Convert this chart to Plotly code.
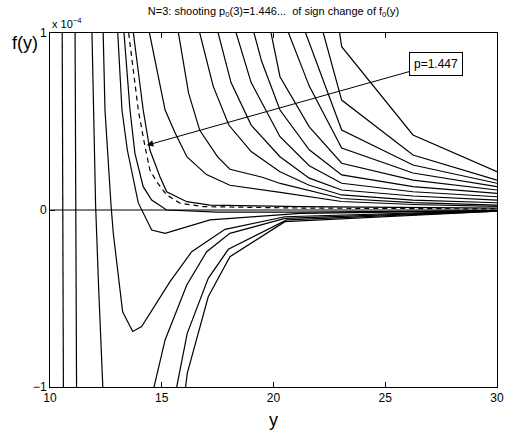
import plotly.graph_objects as go

# ---- data (values in units of 1e-4) ----
C1_x = [10.545, 10.60]; C1_y = [1.05, -1.05]
C2_x = [11.12, 11.19]; C2_y = [1.05, -1.05]
C3_x = [11.87, 11.94, 12.04, 12.18, 12.38]; C3_y = [1.05, 0.56, 0.03, -0.45, -1.05]
C4_x = [12.37, 12.46, 12.73, 12.83, 13.25, 13.70, 14.10, 15.37, 16.34, 17.83, 20.51, 30]
C4_y = [1.05, 0.565, 0.028, -0.13, -0.575, -0.686, -0.659, -0.405, -0.236, -0.109, -0.038, -0.003]
S_x = [13.01, 13.22, 13.46, 13.95, 14.55, 15.15, 17.16, 21.2, 30]
S_y = [1.05, 0.565, 0.339, 0.04, -0.113, -0.132, -0.056, -0.019, -0.003]
T_x = [13.28, 13.58, 13.80, 14.17, 14.55, 15.22, 17.5, 21.2, 30]
T_y = [1.05, 0.565, 0.32, 0.132, 0.056, 0.0, -0.012, -0.012, -0.003]
D_x = [13.47, 13.95, 14.25, 14.47, 14.77, 15.22, 15.82, 16.86, 21.2, 30]
D_y = [1.05, 0.565, 0.358, 0.226, 0.16, 0.085, 0.038, 0.019, 0.011, 0.006]
U_x = [13.68, 14.17, 14.47, 14.92, 15.22, 16.12, 17.16, 21.2, 30]
U_y = [1.05, 0.565, 0.339, 0.188, 0.103, 0.047, 0.028, 0.019, 0.011]
U5_x = [14.37, 14.85, 15.15, 15.6, 16.13, 17.0, 18.05, 20.3, 23.05, 26.24, 30]
U5_y = [1.05, 0.75, 0.565, 0.435, 0.30, 0.20, 0.14, 0.10, 0.048, 0.031, 0.020]
U6_x = [15.68, 16.2, 16.7, 17.5, 18.05, 19.5, 20.3, 23.05, 26.24, 30]
U6_y = [1.05, 0.66, 0.45, 0.30, 0.23, 0.185, 0.15, 0.065, 0.042, 0.028]
U7_x = [16.6, 17.3, 18.0, 19.0, 20.29, 21.6, 23.05, 26.24, 30]
U7_y = [1.05, 0.70, 0.48, 0.33, 0.216, 0.14, 0.085, 0.056, 0.041]
U8_x = [17.42, 18.1, 19.0, 20.29, 21.6, 23.05, 26.24, 30]
U8_y = [1.05, 0.72, 0.48, 0.301, 0.18, 0.113, 0.079, 0.056]
U9_x = [18.21, 19.0, 20.29, 21.6, 23.05, 26.24, 30]
U9_y = [1.05, 0.72, 0.414, 0.25, 0.151, 0.103, 0.075]
U10_x = [19.02, 19.47, 20.29, 21.6, 23.05, 26.24, 30]
U10_y = [1.05, 0.84, 0.565, 0.34, 0.198, 0.132, 0.094]
U11_x = [19.81, 20.29, 21.6, 23.05, 26.24, 30]
U11_y = [1.05, 0.753, 0.47, 0.264, 0.169, 0.113]
U12_x = [20.52, 21.6, 23.05, 26.24, 30]
U12_y = [1.05, 0.70, 0.350, 0.209, 0.132]
U13_x = [21.29, 23.05, 26.24, 30]
U13_y = [1.05, 0.452, 0.254, 0.151]
U14_x = [22.12, 23.05, 26.24, 30]
U14_y = [1.05, 0.621, 0.311, 0.169]
U15_x = [22.9, 23.05, 26.24, 30]
U15_y = [1.05, 0.923, 0.424, 0.216]
L3_x = [14.56, 15.15, 16.12, 17.01, 18.05, 20.51, 30]
L3_y = [-1.05, -0.734, -0.424, -0.236, -0.132, -0.047, -0.005]
L4_x = [15.59, 16.14, 17.08, 17.98, 20.59, 30]
L4_y = [-1.05, -0.697, -0.386, -0.222, -0.056, -0.006]
L5_x = [16.02, 16.14, 17.08, 18.05, 20.51, 30]
L5_y = [-1.05, -0.923, -0.49, -0.264, -0.066, -0.007]
ZERO_x = [10, 30]; ZERO_y = [0, 0]

X_TICKS = [10, 15, 20, 25, 30]
Y_TICKS = [-1, 0, 1]
ARROW_TIP = (14.33, 0.366)
ARROW_TAIL = (27.26, 0.824)
LABEL = "p=1.447"

FONT = "Liberation Sans, Arial, sans-serif"

solid = [
    (C1_x, C1_y), (C2_x, C2_y), (C3_x, C3_y), (C4_x, C4_y), (S_x, S_y), (T_x, T_y),
    (U_x, U_y), (U5_x, U5_y), (U6_x, U6_y), (U7_x, U7_y), (U8_x, U8_y), (U9_x, U9_y),
    (U10_x, U10_y), (U11_x, U11_y), (U12_x, U12_y), (U13_x, U13_y), (U14_x, U14_y),
    (U15_x, U15_y), (L3_x, L3_y), (L4_x, L4_y), (L5_x, L5_y), (ZERO_x, ZERO_y),
]

fig = go.Figure()
for xs, ys in solid:
    fig.add_trace(go.Scatter(x=xs, y=ys, mode="lines",
                             line=dict(color="black", width=1.2), hoverinfo="skip"))
fig.add_trace(go.Scatter(x=D_x, y=D_y, mode="lines",
                         line=dict(color="black", width=1.2, dash="5px,4px"), hoverinfo="skip"))

axis_common = dict(showline=True, linecolor="black", linewidth=1, mirror="ticks",
                   ticks="inside", ticklen=5, tickcolor="black", showgrid=False,
                   zeroline=False, automargin=False,
                   tickfont=dict(family=FONT, size=12, color="black"))

fig.update_layout(
    width=505, height=434,
    margin=dict(l=50, r=8, t=33, b=47, autoexpand=False),
    paper_bgcolor="white", plot_bgcolor="white",
    showlegend=False,
    xaxis=dict(range=[10, 30], tickvals=X_TICKS, **axis_common),
    yaxis=dict(range=[-1, 1], tickvals=Y_TICKS, **axis_common),
    title=dict(text="N=3: shooting p<sub>0</sub>(3)=1.446...  of sign change of f<sub>0</sub>(y)",
               x=0.5, xref="paper", xanchor="center", y=0.974, yref="container", yanchor="middle",
               font=dict(family=FONT, size=11, color="black")),
)
fig.add_annotation(x=ARROW_TIP[0], y=ARROW_TIP[1], ax=ARROW_TAIL[0], ay=ARROW_TAIL[1],
                   xref="x", yref="y", axref="x", ayref="y", text=LABEL, showarrow=True,
                   arrowhead=2, arrowsize=1.3, arrowwidth=1, arrowcolor="black",
                   bordercolor="black", borderwidth=1, borderpad=4, bgcolor="white",
                   font=dict(family=FONT, size=12, color="black"))
fig.add_annotation(x=0, y=1, xref="paper", yref="paper", xanchor="left", yanchor="bottom",
                   text="x 10<sup>−4</sup>", showarrow=False, yshift=1,
                   font=dict(family=FONT, size=11, color="black"))
fig.add_annotation(x=0, xref="paper", xanchor="right", xshift=-10, y=1, yref="paper",
                   yanchor="top", yshift=2, text="f(y)", showarrow=False,
                   font=dict(family=FONT, size=18, color="black"))
fig.add_annotation(x=0.5, xref="paper", y=0, yref="paper", yanchor="top", yshift=-21,
                   text="y", showarrow=False, font=dict(family=FONT, size=18, color="black"))

fig.write_html("out.html", config={"displayModeBar": False},
               post_script="document.body.style.margin='0';document.body.style.padding='0';")
